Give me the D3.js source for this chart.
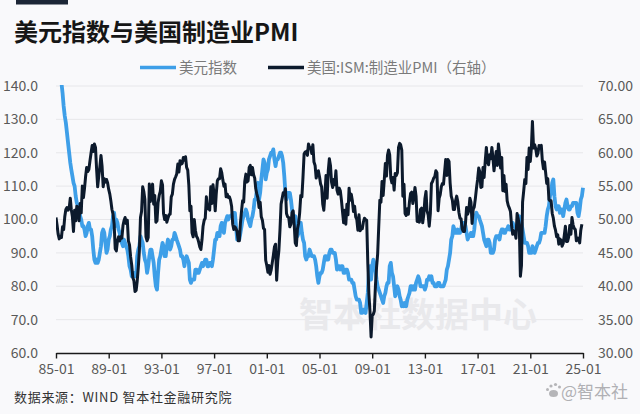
<!DOCTYPE html>
<html><head><meta charset="utf-8">
<script src="https://cdn.jsdelivr.net/npm/d3@7"></script>
<style>
html,body{margin:0;padding:0;background:#f9f9fb;}
svg{display:block;}
text{font-family:"Noto Sans CJK SC","Noto Sans",sans-serif;}
</style></head>
<body>
<svg id="c" width="640" height="414"></svg>
<script>
const title = "美元指数与美国制造业PMI";
const seriesNames = ["美元指数", "美国:ISM:制造业PMI（右轴）"];
const startMonth = "1985-01";
// US Dollar Index, monthly, 1985-01 .. 2025-01
const dollarIndex = [
152,158,157,149,146,141,138,134,131,129,126,123,
120,117,115,113,111,110,107,105,104,103,101,100,
98,98,97,95,96,98,99,97,97,95,91,88,
87,88,87,88,90,92,96,97,96,93,90,91,
94,95,97,98,101,102,98,100,99,97,96,94,
93,92,94,93,92,91,89,86,85,83,83,84,
83,83,89,91,92,95,94,93,90,88,87,84,
86,89,91,91,89,87,83,80,79,84,88,89,
91,93,92,89,89,92,94,93,91,92,94,94,
96,95,94,93,92,91,89,89,88,86,88,89,
88,87,82,81,82,82,82,85,85,84,84,85,
86,87,86,87,88,88,86,86,87,87,86,88,
91,94,94,96,95,95,98,99,97,96,99,100,
101,100,101,101,101,102,102,102,98,94,95,94,
96,98,100,101,102,103,102,100,99,98,100,101,
103,106,106,109,111,106,108,112,115,118,117,112,
114,115,118,119,120,120,121,118,116,118,118,119,
120,120,119,117,113,108,106,108,108,108,106,103,
101,101,101,99,95,96,98,99,96,94,93,89,
88,89,89,91,90,89,89,89,88,86,83,81,
83,84,84,85,87,89,89,88,88,90,91,91,
90,90,90,88,85,86,86,85,86,86,84,84,
85,85,84,82,82,82,81,81,79,77,76,76,
76,75,72,72,73,73,72,75,78,84,86,82,
86,88,87,85,82,80,79,78,77,76,75,77,
78,80,81,81,86,87,84,83,80,77,79,80,
79,77,76,74,75,74,75,74,76,77,78,80,
80,79,80,79,81,82,83,82,80,80,80,80,
79,80,82,82,83,82,83,81,81,80,80,80,
81,81,80,80,80,80,81,82,85,86,88,90,
94,95,98,97,96,96,97,96,96,97,99,99,
99,98,96,94,95,95,96,95,95,97,101,102,
101,101,100,99,98,96,94,93,92,94,94,93,
90,90,90,91,94,95,95,95,94,96,97,97,
96,96,97,97,98,97,97,98,99,98,98,97,
97,98,101,100,99,97,95,93,93,93,92,90,
90,90,92,91,90,91,92,93,93,94,96,96,
96,96,98,101,103,104,107,108,111,112,107,104,
103,104,104,102,103,103,101,103,105,106,104,103,
103,104,104,105,105,105,105,102,101,103,106,107,
109.5
];
// ISM manufacturing PMI, monthly, 1985-01 .. 2024-12
const ismPmi = [
50.3,49.1,47.8,47.1,47.5,47.3,48.9,48.5,50.4,51.5,51.8,51.4,
51.7,53.2,51.5,50.4,48.2,51.4,49.8,52.0,51.6,49.8,52.4,51.0,
55.0,53.3,54.6,56.4,57.8,57.2,57.5,58.8,60.0,61.1,60.2,61.3,
60.8,57.5,54.9,56.5,57.9,59.6,58.0,54.9,56.1,55.6,56.0,55.5,
54.5,53.8,52.8,51.5,50.8,49.3,45.6,45.3,46.8,47.4,46.8,47.4,
47.2,49.1,49.8,50.3,49.4,49.9,46.8,46.2,44.4,43.2,41.3,40.8,
39.2,39.4,40.7,42.8,45.3,50.3,51.2,54.9,54.2,53.0,47.4,46.8,
47.3,55.3,52.7,53.7,55.3,52.3,53.6,49.6,49.8,52.5,53.6,54.2,
55.8,55.2,50.9,50.0,50.6,49.6,50.2,50.7,50.8,53.4,53.8,55.3,
56.0,56.4,56.8,58.3,57.1,58.8,58.3,58.4,59.3,58.9,59.4,57.8,
57.4,55.1,51.3,52.0,48.0,47.4,50.0,48.4,47.5,47.2,46.6,45.9,
45.5,47.0,49.0,49.9,50.2,53.4,51.6,52.0,51.4,54.9,52.4,55.2,
53.8,51.3,53.8,55.8,56.1,56.1,57.6,57.0,55.9,55.0,55.3,53.4,
53.8,53.3,53.4,52.9,52.0,49.3,48.5,48.9,48.6,48.2,46.8,46.8,
49.5,51.3,52.8,52.6,55.7,56.8,55.6,55.8,57.8,58.1,56.7,57.8,
56.7,56.2,54.6,53.8,53.2,51.8,52.6,50.4,49.9,48.7,48.5,43.9,
43.1,42.1,43.1,41.8,42.4,43.5,44.6,45.9,46.3,40.9,43.8,45.3,
48.4,52.3,53.1,54.0,53.8,54.6,50.9,50.4,50.3,48.9,49.3,51.0,
51.3,49.1,46.5,46.1,48.6,49.4,51.0,53.6,53.4,56.3,59.8,60.1,
60.2,59.6,61.3,60.8,60.8,59.9,61.2,58.6,58.1,56.2,57.1,57.3,
56.4,55.3,54.9,52.3,51.4,53.8,56.6,53.2,57.3,59.1,58.1,55.6,
54.8,56.0,55.2,57.3,54.4,53.8,54.7,54.3,52.9,51.2,49.5,51.4,
49.3,52.3,50.7,54.7,52.9,53.8,52.8,51.2,52.0,50.4,50.0,48.4,
50.7,48.3,48.6,48.6,49.6,50.2,50.0,49.9,43.5,38.9,36.2,32.4,
35.6,35.8,36.3,40.1,42.8,44.8,48.9,52.9,52.6,55.7,53.6,55.9,
58.4,56.5,59.6,60.4,59.7,56.2,55.5,56.3,54.4,56.9,56.6,57.0,
60.8,61.4,61.2,60.4,53.5,55.3,50.9,50.6,51.6,50.8,52.7,53.9,
54.1,52.4,53.4,54.8,53.5,49.7,49.8,49.6,51.5,51.7,49.5,50.7,
53.1,54.2,51.3,50.7,49.0,50.9,55.4,55.7,56.2,56.4,57.3,57.0,
51.3,53.2,53.7,54.9,55.4,55.3,57.1,59.0,56.6,59.0,58.7,55.5,
53.5,52.9,51.5,51.5,52.8,53.5,52.7,51.1,50.2,50.1,48.6,48.2,
48.2,49.5,51.8,50.8,51.3,53.2,52.6,49.4,51.5,51.9,53.2,54.7,
56.0,57.7,57.2,54.8,54.9,57.8,56.3,58.8,60.8,58.7,58.2,59.7,
59.1,60.8,59.3,57.3,58.7,60.2,58.1,61.3,59.8,57.7,59.3,54.3,
56.6,54.2,55.3,52.8,52.1,51.7,51.2,49.1,47.8,48.3,48.1,47.2,
50.9,50.1,49.1,41.5,43.1,52.6,54.2,56.0,55.4,59.3,57.5,60.7,
58.7,60.8,64.7,60.7,61.2,60.6,59.5,59.9,61.1,60.8,61.1,58.8,
57.6,58.6,57.1,55.4,56.1,53.0,52.8,52.8,50.9,50.2,49.0,48.4,
47.4,47.7,46.3,47.1,46.9,46.0,46.4,47.6,49.0,46.7,46.7,47.4,
49.1,47.8,50.3,49.2,48.7,48.5,46.8,47.2,47.2,46.5,48.4,49.3
];
const leftTicks = [60,70,80,90,100,110,120,130,140];
const rightTicks = [30,35,40,45,50,55,60,65,70];
const xTickLabels = ["85-01","89-01","93-01","97-01","01-01","05-01","09-01","13-01","17-01","21-01","25-01"];
const footer = "数据来源：WIND 智本社金融研究院";
const watermark = "智本社数据中心";
const brand = "@智本社";

const svg = d3.select("#c");
const W=640,H=414;
const m = {l:56, r:583, t:86, b:353};
const blue="#3e9fe8", navy="#0c1a2c";
const parse = d3.timeParse("%Y-%m");
const t0 = parse(startMonth);
const dateAt = i => d3.timeMonth.offset(t0, i);
const x = d3.scaleTime().domain([parse("1985-01"), parse("2025-01")]).range([m.l, m.r]);
const yL = d3.scaleLinear().domain([60,140]).range([m.b, m.t]);
const yR = d3.scaleLinear().domain([30,70]).range([m.b, m.t]);

svg.append("rect").attr("width",W).attr("height",H).attr("fill","#f9f9fb");
svg.append("rect").attr("x",16).attr("y",0).attr("width",52).attr("height",4.5).attr("fill","#1c2636");
svg.append("text").attr("x",14).attr("y",41).attr("font-size",24).attr("font-weight",700)
  .attr("fill","#161616").text(title);

// gridlines
svg.append("g").selectAll("line").data(leftTicks.slice(1)).join("line")
  .attr("x1",m.l).attr("x2",m.r).attr("y1",d=>yL(d)).attr("y2",d=>yL(d))
  .attr("stroke","#e7e7ea").attr("stroke-width",1);

// left axis labels
const gl = svg.append("g").attr("transform",`translate(${m.l},0)`)
  .call(d3.axisLeft(yL).tickValues(leftTicks).tickFormat(d3.format(".1f")).tickSize(0).tickPadding(18));
gl.select(".domain").remove();
gl.selectAll("text").attr("font-size",14).attr("fill","#595959").attr("font-family","'Noto Sans','Open Sans',sans-serif");
// right axis labels
const gr = svg.append("g").attr("transform",`translate(${m.r},0)`)
  .call(d3.axisRight(yR).tickValues(rightTicks).tickFormat(d3.format(".2f")).tickSize(0).tickPadding(15));
gr.select(".domain").remove();
gr.selectAll("text").attr("font-size",14).attr("fill","#595959").attr("font-family","'Noto Sans','Open Sans',sans-serif");

// watermark
svg.append("text").attr("x",418).attr("y",327).attr("text-anchor","middle")
  .attr("font-size",34).attr("font-weight",700).attr("fill","#e9e9ec").text(watermark);

// x axis
const xTicks = xTickLabels.map(s => { const [yy,mm]=s.split("-"); const Y=+yy<50?2000+ +yy:1900+ +yy; return new Date(Y, +mm-1, 1); });
const gx = svg.append("g").attr("transform",`translate(0,${m.b})`)
  .call(d3.axisBottom(x).tickValues(xTicks).tickFormat((d,i)=>xTickLabels[i]).tickSize(5.5).tickSizeOuter(0).tickPadding(6));
gx.select(".domain").attr("stroke","#1a1a1a").attr("stroke-width",1.6);
gx.selectAll(".tick line").attr("stroke","#1a1a1a").attr("stroke-width",1.4);
gx.selectAll("text").attr("font-size",14).attr("fill","#595959").attr("font-family","'Noto Sans','Open Sans',sans-serif");

// clip
svg.append("clipPath").attr("id","pc").append("rect")
  .attr("x",m.l).attr("y",m.t-1).attr("width",m.r-m.l+2).attr("height",m.b-m.t+1);

const lineL = d3.line().x((d,i)=>x(dateAt(i))).y(d=>yL(d));
const lineR = d3.line().x((d,i)=>x(dateAt(i))).y(d=>yR(d));
const pg = svg.append("g").attr("clip-path","url(#pc)");
pg.append("path").datum(dollarIndex).attr("d",lineL).attr("fill","none")
  .attr("stroke",blue).attr("stroke-width",3.8).attr("stroke-linejoin","round");
pg.append("path").datum(ismPmi).attr("d",lineR).attr("fill","none")
  .attr("stroke",navy).attr("stroke-width",3).attr("stroke-linejoin","round");

// legend
const lg = svg.append("g");
lg.append("line").attr("x1",140).attr("x2",176).attr("y1",67.5).attr("y2",67.5).attr("stroke",blue).attr("stroke-width",3.5);
lg.append("text").attr("x",179).attr("y",72.5).attr("font-size",14.5).attr("fill","#7a7a7a").text(seriesNames[0]);
lg.append("line").attr("x1",268).attr("x2",304).attr("y1",67.5).attr("y2",67.5).attr("stroke",navy).attr("stroke-width",3.5);
lg.append("text").attr("x",307).attr("y",72.5).attr("font-size",14.5).attr("fill","#7a7a7a").text(seriesNames[1]);

// footer
svg.append("text").attr("x",14).attr("y",402).attr("font-size",13).attr("letter-spacing",0.7).attr("fill","#333")
  .attr("font-family","'Noto Sans CJK SC','DejaVu Sans Mono',monospace").text(footer);

// brand
const bg = svg.append("g").attr("fill","#b5b5b8");
[[551,386,1.6],[555.5,384.5,1.6],[559.5,387,1.5],[547.5,389.5,1.5]].forEach(([cx,cy,r])=>bg.append("circle").attr("cx",cx).attr("cy",cy).attr("r",r));
bg.append("ellipse").attr("cx",553.5).attr("cy",393.5).attr("rx",4.5).attr("ry",3.6);
svg.append("text").attr("x",561).attr("y",398).attr("font-size",17).attr("fill","#b0b0b4").text(brand);
</script>
</body></html>
